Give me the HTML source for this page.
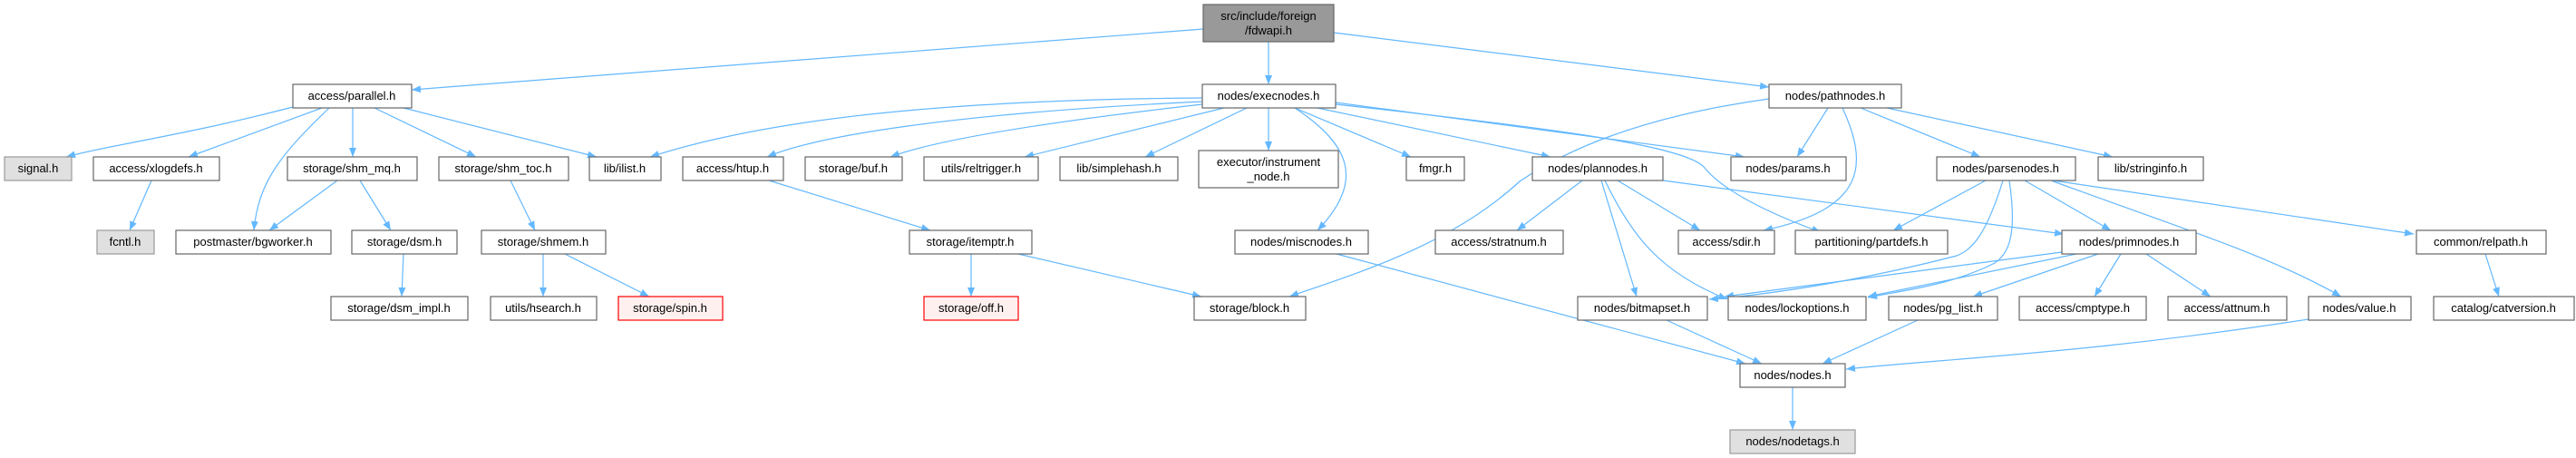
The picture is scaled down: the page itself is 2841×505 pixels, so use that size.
<!DOCTYPE html>
<html><head><meta charset="utf-8"><style>
html,body{margin:0;padding:0;background:#fff;}
svg{display:block;}
text{font-family:"Liberation Sans",sans-serif;font-size:13px;fill:#000;text-anchor:middle;}
.n{fill:#fff;stroke:#666;stroke-width:1.2;}
.g{fill:#e0e0e0;stroke:#999;stroke-width:1.2;}
.r{fill:#fff0f0;stroke:#f00;stroke-width:1.2;}
.t{fill:#999;stroke:#666;stroke-width:1.2;}
path{fill:none;stroke:#63b8ff;stroke-width:1.2;}
</style></head><body>
<svg width="2841" height="505" viewBox="0 0 2841 505" xmlns="http://www.w3.org/2000/svg">
<defs><marker id="a" markerWidth="10" markerHeight="8" refX="10" refY="4" orient="auto" markerUnits="userSpaceOnUse"><polygon points="0,0 10,4 0,8" fill="#63b8ff"/></marker></defs>
<g marker-end="url(#a)">
<path d="M1327,32 L454,99"/>
<path d="M1399,46 L1399,93"/>
<path d="M1471,36 L1951,96"/>
<path d="M323,118 C200,150 120,160 73,173"/>
<path d="M355,119 L208,173"/>
<path d="M363,119 C310,170 285,200 280,254"/>
<path d="M389,119 L389,173"/>
<path d="M413,119 L525,173"/>
<path d="M445,119 L658,173"/>
<path d="M372,199 L297,254"/>
<path d="M397,199 L431,254"/>
<path d="M167,199 L143,254"/>
<path d="M563,199 L590,254"/>
<path d="M445,280 L443,327"/>
<path d="M599,280 L599,327"/>
<path d="M623,280 L716,327"/>
<path d="M848,199 L1026,254"/>
<path d="M1071,280 L1071,327"/>
<path d="M1123,280 L1325,327"/>
<path d="M1474,280 L1925,401"/>
<path d="M1838,353 L1943,401"/>
<path d="M2115,353 L2010,401"/>
<path d="M2546,352 C2300,390 2150,395 2036,407"/>
<path d="M1977,427 L1977,474"/>
<path d="M1326,108 C1050,110 850,130 717,173"/>
<path d="M1326,112 C1050,125 900,150 846,173"/>
<path d="M1326,115 C1150,135 1030,155 982,173"/>
<path d="M1350,119 L1130,173"/>
<path d="M1375,119 L1263,173"/>
<path d="M1399,119 L1399,166"/>
<path d="M1428,119 L1556,173"/>
<path d="M1453,119 L1710,173"/>
<path d="M1428,119 C1490,160 1505,200 1453,254"/>
<path d="M1473,113 L1924,173"/>
<path d="M1473,115 C1700,140 1860,160 1880,185 C1900,210 1950,235 2008,256"/>
<path d="M1834,199 L2276,258"/>
<path d="M1951,109 C1800,130 1720,170 1676,200 C1600,270 1500,300 1422,327"/>
<path d="M1745,199 L1673,254"/>
<path d="M1784,199 L1875,254"/>
<path d="M1766,199 L1805,327"/>
<path d="M1770,199 C1800,260 1830,300 1905,330"/>
<path d="M2016,119 L1982,173"/>
<path d="M2032,119 C2060,180 2060,230 1945,254"/>
<path d="M2052,119 L2184,173"/>
<path d="M2081,119 L2330,173"/>
<path d="M2190,199 L2088,254"/>
<path d="M2233,199 L2328,254"/>
<path d="M2209,199 C2190,260 2175,275 2158,282 C2050,310 1950,325 1885,330"/>
<path d="M2216,199 C2225,260 2215,280 2200,290 C2150,315 2100,320 2060,328"/>
<path d="M2262,199 C2400,250 2500,280 2582,327"/>
<path d="M2264,199 L2662,258"/>
<path d="M2274,278 L1902,327"/>
<path d="M2290,280 L2060,327"/>
<path d="M2314,280 L2176,327"/>
<path d="M2339,280 L2310,327"/>
<path d="M2367,280 L2438,327"/>
<path d="M2741,280 L2756,327"/>
</g>
<rect class="t" x="1327" y="5" width="144" height="41"/><text x="1399" y="22">src/include/foreign</text><text x="1399" y="38">/fdwapi.h</text>
<rect class="n" x="323" y="93" width="131" height="26"/><text x="388" y="110">access/parallel.h</text>
<rect class="n" x="1326" y="93" width="147" height="26"/><text x="1399" y="110">nodes/execnodes.h</text>
<rect class="n" x="1951" y="93" width="146" height="26"/><text x="2024" y="110">nodes/pathnodes.h</text>
<rect class="g" x="5" y="173" width="74" height="26"/><text x="42" y="190">signal.h</text>
<rect class="n" x="103" y="173" width="139" height="26"/><text x="172" y="190">access/xlogdefs.h</text>
<rect class="n" x="317" y="173" width="143" height="26"/><text x="388" y="190">storage/shm_mq.h</text>
<rect class="n" x="484" y="173" width="143" height="26"/><text x="555" y="190">storage/shm_toc.h</text>
<rect class="n" x="650" y="173" width="79" height="26"/><text x="689" y="190">lib/ilist.h</text>
<rect class="n" x="753" y="173" width="111" height="26"/><text x="808" y="190">access/htup.h</text>
<rect class="n" x="888" y="173" width="107" height="26"/><text x="941" y="190">storage/buf.h</text>
<rect class="n" x="1019" y="173" width="126" height="26"/><text x="1082" y="190">utils/reltrigger.h</text>
<rect class="n" x="1169" y="173" width="130" height="26"/><text x="1234" y="190">lib/simplehash.h</text>
<rect class="n" x="1322" y="166" width="154" height="41"/><text x="1399" y="183">executor/instrument</text><text x="1399" y="199">_node.h</text>
<rect class="n" x="1551" y="173" width="64" height="26"/><text x="1583" y="190">fmgr.h</text>
<rect class="n" x="1690" y="173" width="144" height="26"/><text x="1762" y="190">nodes/plannodes.h</text>
<rect class="n" x="1909" y="173" width="127" height="26"/><text x="1972" y="190">nodes/params.h</text>
<rect class="n" x="2136" y="173" width="153" height="26"/><text x="2212" y="190">nodes/parsenodes.h</text>
<rect class="n" x="2314" y="173" width="116" height="26"/><text x="2372" y="190">lib/stringinfo.h</text>
<rect class="g" x="107" y="254" width="63" height="26"/><text x="138" y="271">fcntl.h</text>
<rect class="n" x="194" y="254" width="171" height="26"/><text x="279" y="271">postmaster/bgworker.h</text>
<rect class="n" x="388" y="254" width="116" height="26"/><text x="446" y="271">storage/dsm.h</text>
<rect class="n" x="531" y="254" width="137" height="26"/><text x="599" y="271">storage/shmem.h</text>
<rect class="n" x="1003" y="254" width="135" height="26"/><text x="1070" y="271">storage/itemptr.h</text>
<rect class="n" x="1362" y="254" width="147" height="26"/><text x="1435" y="271">nodes/miscnodes.h</text>
<rect class="n" x="1583" y="254" width="141" height="26"/><text x="1653" y="271">access/stratnum.h</text>
<rect class="n" x="1851" y="254" width="106" height="26"/><text x="1904" y="271">access/sdir.h</text>
<rect class="n" x="1980" y="254" width="168" height="26"/><text x="2064" y="271">partitioning/partdefs.h</text>
<rect class="n" x="2274" y="254" width="148" height="26"/><text x="2348" y="271">nodes/primnodes.h</text>
<rect class="n" x="2665" y="254" width="143" height="26"/><text x="2736" y="271">common/relpath.h</text>
<rect class="n" x="365" y="327" width="151" height="26"/><text x="440" y="344">storage/dsm_impl.h</text>
<rect class="n" x="541" y="327" width="117" height="26"/><text x="599" y="344">utils/hsearch.h</text>
<rect class="r" x="682" y="327" width="115" height="26"/><text x="739" y="344">storage/spin.h</text>
<rect class="r" x="1019" y="327" width="104" height="26"/><text x="1071" y="344">storage/off.h</text>
<rect class="n" x="1317" y="327" width="123" height="26"/><text x="1378" y="344">storage/block.h</text>
<rect class="n" x="1740" y="327" width="143" height="26"/><text x="1811" y="344">nodes/bitmapset.h</text>
<rect class="n" x="1906" y="327" width="152" height="26"/><text x="1982" y="344">nodes/lockoptions.h</text>
<rect class="n" x="2083" y="327" width="120" height="26"/><text x="2143" y="344">nodes/pg_list.h</text>
<rect class="n" x="2227" y="327" width="140" height="26"/><text x="2297" y="344">access/cmptype.h</text>
<rect class="n" x="2391" y="327" width="131" height="26"/><text x="2456" y="344">access/attnum.h</text>
<rect class="n" x="2546" y="327" width="113" height="26"/><text x="2602" y="344">nodes/value.h</text>
<rect class="n" x="2684" y="327" width="155" height="26"/><text x="2761" y="344">catalog/catversion.h</text>
<rect class="n" x="1919" y="401" width="116" height="26"/><text x="1977" y="418">nodes/nodes.h</text>
<rect class="g" x="1908" y="474" width="138" height="26"/><text x="1977" y="491">nodes/nodetags.h</text>
</svg>
</body></html>
